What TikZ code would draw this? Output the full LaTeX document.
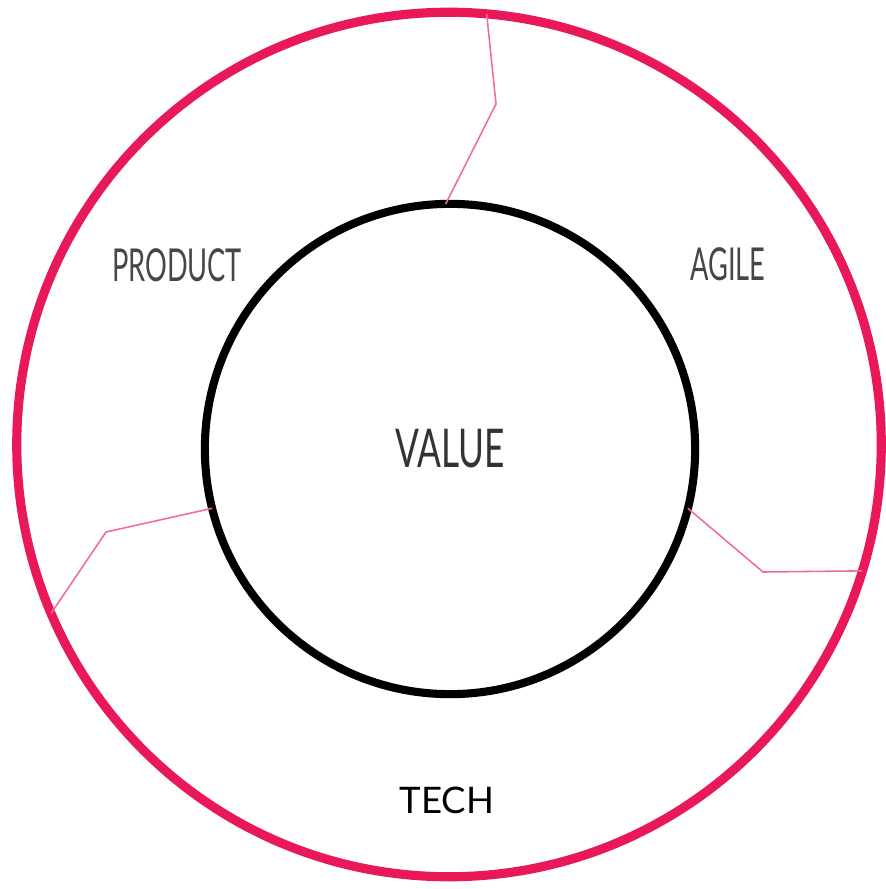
\documentclass[tikz,border=0pt]{standalone}
\usepackage{fontspec}
\setmainfont{Lato}
\newfontfamily\narrowfont[FakeStretch=0.6]{Lato}
\newfontfamily\valuefont[FakeStretch=0.66]{Lato}
\usepackage{tikz}
\usetikzlibrary{calc}
\definecolor{ring_red}{RGB}{233,24,88}
\definecolor{link_pink}{RGB}{240,110,145}
\definecolor{label_grey}{RGB}{70,70,70}

\begin{document}
\begin{tikzpicture}[x=0.01cm, y=-0.01cm,
    label/.style={font=\narrowfont, text=label_grey, inner sep=0pt},
    link/.style={link_pink, line width=0.45pt}]
    \useasboundingbox (0,0) rectangle (886,889);
    % Rings
    \node[circle, draw=ring_red, line width=2.6pt, minimum size=8.64cm, inner sep=0pt, outer sep=0pt] (ring) at (449,444.5) {};
    \node[circle, draw=black, line width=2.3pt, minimum size=4.9cm, inner sep=0pt, outer sep=0pt,
        font=\valuefont\fontsize{15.2}{17}\selectfont, text=black!80] (value) at (450,449) {VALUE};
    % Bends
    \coordinate (bendtop) at (496,104);
    \coordinate (bendleft) at (106,532);
    \coordinate (bendright) at (763,572);
    \draw[link] (value.91.6) -- (bendtop) -- (ring.85.5);
    \draw[link] (value.194.2) -- (bendleft) -- (ring.203.3);
    \draw[link] (value.346.8) -- (bendright) -- (ring.343.4);
    % Labels
    \node[label, font=\narrowfont\fontsize{12.9}{15}\selectfont] (product) at (177,265) {PRODUCT};
    \node[label, font=\narrowfont\fontsize{12.9}{15}\selectfont] (agile) at (728,264) {AGILE};
    \node[inner sep=0pt, font=\fontsize{10.4}{12}\selectfont, text=black] (tech) at (447,800) {TECH};
\end{tikzpicture}
\end{document}
